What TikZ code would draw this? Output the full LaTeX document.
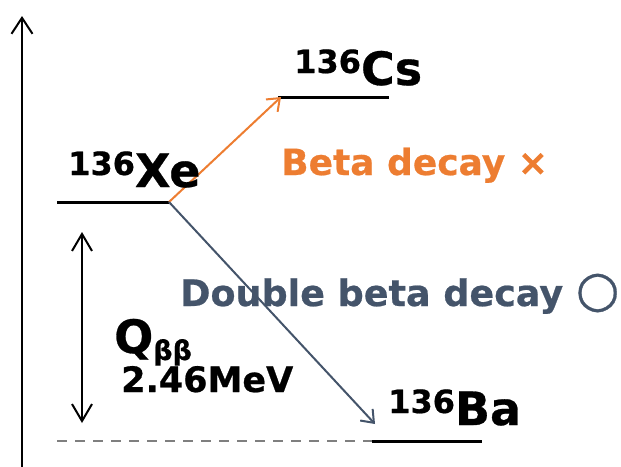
\documentclass[tikz,border=0pt]{standalone}
\usepackage{fontspec}
\setmainfont{DejaVu Sans}[BoldFeatures={FakeBold=0.6}]
\usetikzlibrary{arrows.meta}
\definecolor{offorange}{HTML}{ED7D31}
\definecolor{offblue}{HTML}{44546A}
\definecolor{dashgray}{HTML}{7F7F7F}
\newcommand{\fs}[1]{\fontsize{#1}{#1}\selectfont}
\begin{document}
\begin{tikzpicture}[x=1pt,y=-1pt,
  level/.style={line width=3pt,black},
  lbl/.style={anchor=base west,inner sep=0pt,font=\bfseries},
  bigtip/.style={-{Straight Barb[length=16pt,width=21pt,line width=2pt]}},
  midtip/.style={{Straight Barb[length=17pt,width=20pt,line width=2pt]}-{Straight Barb[length=17pt,width=20pt,line width=2pt]}},
  smalltip/.style={-{Straight Barb[length=11pt,width=17pt,line width=2pt]}}]
\useasboundingbox (0,0) rectangle (621,466);
% axis
\coordinate (axB) at (22,468);
\coordinate (axT) at (22,16);
\draw[line width=2pt,bigtip] (axB) -- (axT);
% levels
\coordinate (xeL) at (57,202);
\coordinate (xeR) at (169,202);
\coordinate (csL) at (278,97);
\coordinate (csR) at (389,97);
\coordinate (baL) at (372,441);
\coordinate (baR) at (482,441);
\draw[level] (xeL) -- (xeR);
\draw[level] (csL) -- (csR);
\draw[level] (baL) -- (baR);
\draw[dashgray,line width=2.8pt,dash pattern=on 10pt off 8pt] (xeL |- baL) -- (baL);
% decay arrows
\coordinate (csTip) at (281,97);
\coordinate (baTip) at (375,424);
\draw[offorange,line width=2pt,smalltip] (xeR) -- (csTip);
\draw[offblue,line width=2pt,smalltip] (xeR) -- (baTip);
% Q arrow
\coordinate (qT) at (82,232);
\coordinate (qB) at (82,423);
\draw[line width=2pt,midtip] (qB) -- (qT);
% labels
\node[lbl] (xe) at (68,187) {\raisebox{12pt}{\fs{32}136}\fs{46}Xe};
\node[lbl] (cs) at (294,85) {\raisebox{12pt}{\fs{32}136}\fs{46}Cs};
\node[lbl] (ba) at (388,425) {\raisebox{12pt}{\fs{32}136}\fs{46}Ba};
\node[lbl,text=offorange] (beta) at (281,175) {\fs{36}Beta decay ×};
\node[lbl,text=offblue] (dbeta) at (180,306) {\fs{36.5}Double beta decay {\fs{50}○}};
\node[lbl] (q) at (114,353) {\fs{46}Q\raisebox{-7pt}{\fs{27}ββ}};
\node[lbl] (qv) at (121,392) {\fs{35}2.46MeV};
\end{tikzpicture}
\end{document}
